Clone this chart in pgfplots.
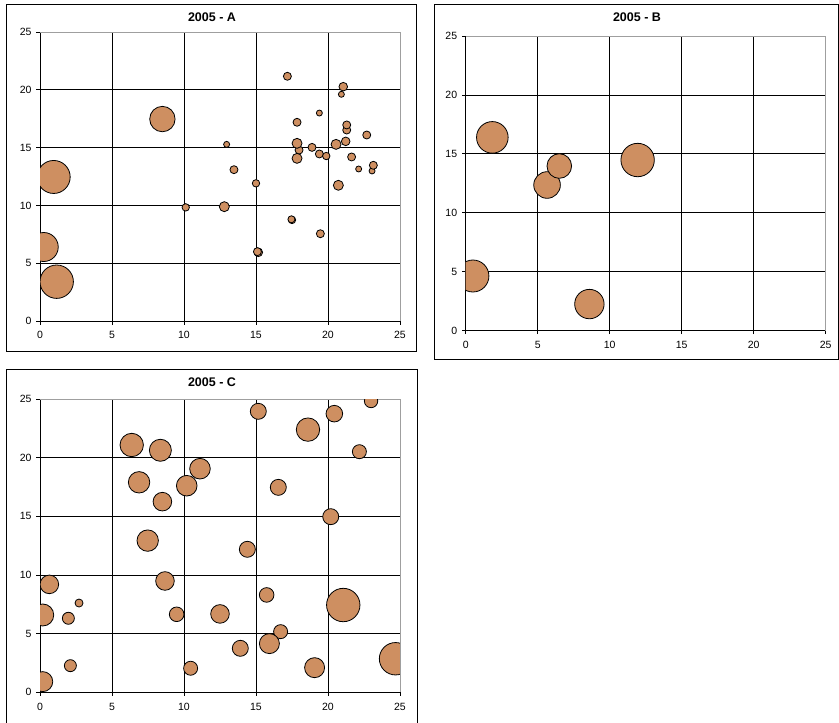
\documentclass[border=0pt]{standalone}
\usepackage{pgfplots}
\pgfplotsset{compat=1.18}
\usepackage{fontspec}
\setmainfont{Liberation Sans}
\definecolor{bub}{RGB}{206,143,97}
\pgfplotsset{
  myax/.style={
    scale only axis, width=360pt,
    xmin=0,xmax=25,ymin=0,ymax=25,
    clip marker paths=true,
    axis lines*=left, axis line style={black, line width=0.8pt},
    xtick={0,5,...,20}, ytick={0,5,...,20},
    extra x ticks={25}, extra y ticks={25},
    grid=major, major grid style={black, line width=0.8pt},
    extra tick style={grid=major, major grid style={gray!75, line width=0.8pt}},
    tick align=outside, major tick length=3.5pt, tick style={black, line width=0.8pt},
    tick label style={font=\fontsize{10.5}{12}\selectfont},
    /pgf/number format/assume math mode=true,
    xticklabel style={yshift=-3.5pt},
    yticklabel style={xshift=-1.5pt},
  },
  bubbles/.style={
    scatter, only marks, mark=*,
    scatter/use mapped color={draw=black, fill=bub},
    visualization depends on={\thisrow{r}\as\rad},
    scatter/@pre marker code/.append style={/tikz/mark size=\rad},
    mark options={line width=0.8pt},
  },
}
\pgfplotstableread{
x y r
8.50 17.47 12.7
0.95 12.46 16.5
0.26 6.40 14.5
1.16 3.40 16.7
17.18 21.17 4
21.06 20.27 4.3
20.93 19.61 3
19.40 17.99 3
17.85 17.19 4
21.30 16.52 4
21.30 16.96 4
22.69 16.09 4
12.96 15.28 3
17.99 14.79 4
17.85 15.37 5
18.89 15.02 4
20.56 15.28 5
21.23 15.54 4.3
19.40 14.45 4
19.88 14.27 3.7
17.85 14.07 5
21.64 14.19 4
22.13 13.15 3
23.06 12.98 3
23.15 13.47 4
13.47 13.09 4
15.00 11.91 3.7
20.72 11.74 5
10.12 9.83 3.7
12.80 9.89 5
17.50 8.74 3.7
17.46 8.80 3.5
19.47 7.55 4
15.16 5.94 4.3
15.10 6.00 4
}\dataA
\pgfplotstableread{
x y r
1.85 16.40 15.8
5.65 12.36 13.3
6.50 13.97 12.3
11.94 14.48 16.7
0.50 4.64 16
8.59 2.26 14.7
}\dataB
\pgfplotstableread{
x y r
6.37 21.08 11.7
8.36 20.63 11
6.88 17.90 10.7
11.11 19.06 10.3
10.19 17.61 10.3
8.50 16.25 9.3
7.48 12.93 10.7
14.40 12.19 8
15.16 23.95 8
20.44 23.75 8.3
18.61 22.39 11.7
22.99 24.83 6.7
22.18 20.51 7
16.55 17.47 8
20.19 14.97 8
0.65 9.20 9.3
0.19 6.59 11
2.71 7.61 4
1.97 6.31 6
2.11 2.27 6
0.19 0.91 10
8.68 9.49 9.3
9.49 6.65 7.3
12.50 6.68 9.3
10.46 2.05 7
13.91 3.75 8
15.74 8.30 7.3
16.71 5.17 7
15.93 4.15 10
19.07 2.10 10
21.06 7.44 16.7
24.69 2.86 16.2
}\dataC
\begin{document}
\begin{tikzpicture}[x=1pt,y=1pt]
\useasboundingbox (0,0) rectangle (839,-723);
\fill[white] (0,0) rectangle (839,-723);
% frames
\draw[line width=0.8pt] (6.5,-4.5) rectangle (416.5,-351.5);
\draw[line width=0.8pt] (434,-4) rectangle (838,-359);
\draw[line width=0.8pt] (6.5,-730) -- (6.5,-369) -- (417.5,-369) -- (417.5,-730);
% titles
\node[font=\bfseries\fontsize{12.5}{14}\selectfont] at (212,-17) {2005 - A};
\node[font=\bfseries\fontsize{12.5}{14}\selectfont] at (637,-17.5) {2005 - B};
\node[font=\bfseries\fontsize{12.5}{14}\selectfont] at (212,-382) {2005 - C};
\begin{axis}[myax, height=289pt, at={(40pt,-321pt)}, anchor=south west]
\addplot[bubbles] table {\dataA};
\end{axis}
\begin{axis}[myax, height=294.7pt, at={(465.7pt,-330.7pt)}, anchor=south west]
\addplot[bubbles] table {\dataB};
\end{axis}
\begin{axis}[myax, height=293.3pt, at={(40pt,-692.3pt)}, anchor=south west]
\addplot[bubbles] table {\dataC};
\end{axis}
\end{tikzpicture}
\end{document}
